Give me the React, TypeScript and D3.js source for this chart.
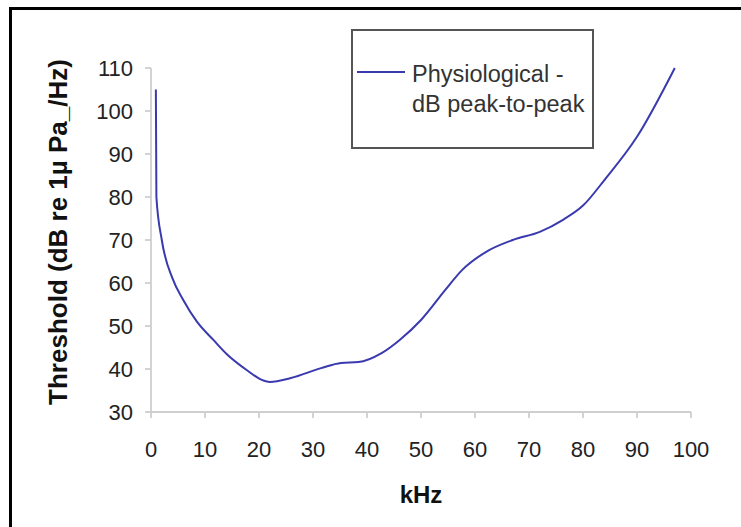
import * as React from 'react';
import * as d3 from 'd3';

// threshold curve (kHz, dB)
const freqs = [0.9, 1, 2, 4, 6, 8.5, 11.6, 14, 17.9, 20.3, 22, 25.9, 31.5, 35.2, 38.4, 42.7, 46, 50, 54.5, 57.6, 62, 67, 72, 76.3, 80, 84, 90, 97];
const thresholds = [105, 80, 70, 61, 56, 51, 46.7, 43.5, 39.6, 37.6, 37, 37.9, 40.2, 41.4, 41.6, 43.7, 46.7, 51.4, 58.4, 63, 67.2, 70, 71.9, 74.7, 78, 84, 94, 110];
const xTicks = [0, 10, 20, 30, 40, 50, 60, 70, 80, 90, 100];
const yTicks = [30, 40, 50, 60, 70, 80, 90, 100, 110];
const legendLines = ['Physiological -', 'dB peak-to-peak'];

const W = 741, H = 527;
const font = 'Liberation Sans, Arial, sans-serif';

export default function App() {
  const x = d3.scaleLinear().domain([0, 100]).range([151, 691]);
  const y = d3.scaleLinear().domain([30, 110]).range([412, 68]);

  const pts: [number, number][] = freqs.map((f, i) => [f, thresholds[i]]);
  const line = d3.line<[number, number]>()
    .x(d => x(d[0]))
    .y(d => y(d[1]))
    .curve(d3.curveMonotoneX);

  return (
    <svg width={W} height={H} style={{ position: 'absolute', left: 0, top: 0, background: '#fff' }}>
      {/* outer frame, only top and left visible */}
      <rect x={10.5} y={8.5} width={W + 20} height={H + 20} fill="#fff" stroke="#000" strokeWidth={3} />

      {/* axes */}
      <g stroke="#cfcfcf" strokeWidth={1.8}>
        <line x1={x(0)} x2={x(0)} y1={y(110)} y2={y(30)} />
        <line x1={x(0)} x2={x(100)} y1={y(30)} y2={y(30)} />
        {yTicks.map(t => (
          <line key={'yt' + t} x1={x(0) - 6} x2={x(0)} y1={y(t)} y2={y(t)} />
        ))}
        {xTicks.map(t => (
          <line key={'xt' + t} x1={x(t)} x2={x(t)} y1={y(30)} y2={y(30) + 6} />
        ))}
      </g>

      <g fontFamily={font} fontSize={22} fill="#222">
        {yTicks.map(t => (
          <text key={'yl' + t} x={133} y={y(t)} dy="0.36em" textAnchor="end">{t}</text>
        ))}
        {xTicks.map(t => (
          <text key={'xl' + t} x={x(t)} y={457} textAnchor="middle">{t}</text>
        ))}
      </g>

      {/* axis titles */}
      <text x={0} y={0} transform={`translate(67, 232) rotate(-90)`} textAnchor="middle"
        fontFamily={font} fontSize={26} fontWeight="bold" fill="#111">
        Threshold (dB re 1µ Pa_/Hz)
      </text>
      <text x={421} y={503} textAnchor="middle" fontFamily={font} fontSize={24} fontWeight="bold" fill="#111">
        kHz
      </text>

      {/* data line */}
      <path d={line(pts)!} fill="none" stroke="#3a3aaf" strokeWidth={2} />

      {/* legend */}
      <rect x={352} y={30} width={241} height={118} fill="#fff" stroke="#555" strokeWidth={2} />
      <line x1={357} x2={405} y1={72} y2={72} stroke="#3a3aaf" strokeWidth={2} />
      <g fontFamily={font} fontSize={23.5} fill="#333">
        {legendLines.map((s, i) => (
          <text key={s} x={412} y={82 + i * 30}>{s}</text>
        ))}
      </g>
    </svg>
  );
}
